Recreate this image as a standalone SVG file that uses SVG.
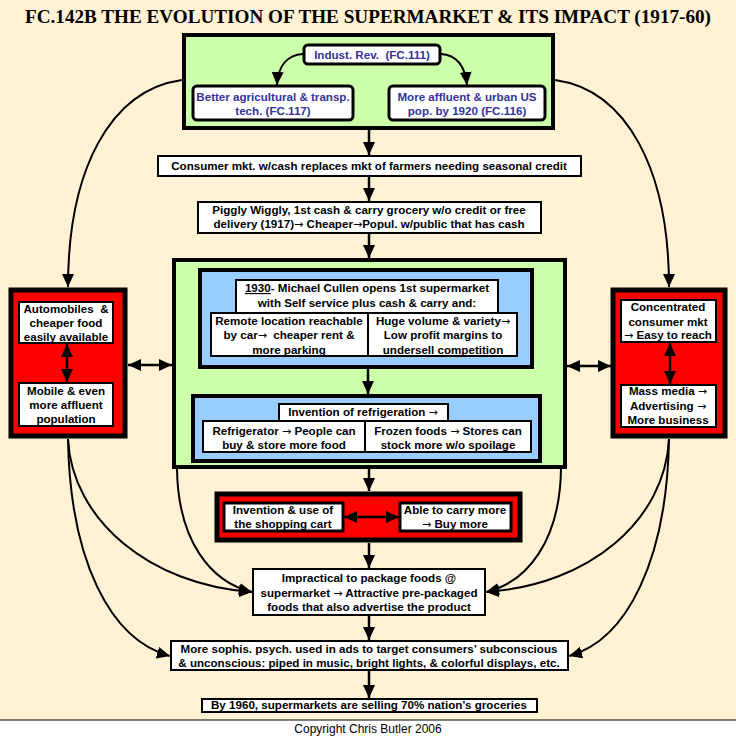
<svg xmlns="http://www.w3.org/2000/svg" width="736" height="737" viewBox="0 0 736 737">
<defs>
<style>
.t{font-family:"Liberation Sans",Arial,sans-serif;font-weight:bold;font-size:11.6px;text-anchor:middle;fill:#000}
.b{fill:#333399}
.a{font-family:"DejaVu Sans",sans-serif;font-weight:normal;font-size:11px}
.wb{fill:#fff;stroke:#000;stroke-width:2}
.wr{fill:#fff;stroke:#000;stroke-width:3}
.rb{fill:#fff;stroke:#000;stroke-width:3}
.gr{fill:#CCFFAA;stroke:#000;stroke-width:4}
.bl{fill:#99CCFF;stroke:#000;stroke-width:4}
.rd{fill:#FF0000;stroke:#000;stroke-width:5}
.c{fill:none;stroke:#000;stroke-width:2}
.v{fill:none;stroke:#000;stroke-width:2.5}
</style>
<marker id="ah" markerUnits="userSpaceOnUse" markerWidth="13" markerHeight="12" refX="13" refY="6" orient="auto-start-reverse" viewBox="0 0 13 12">
<path d="M0,0 L13,6 L0,12 z" fill="#000"/>
</marker>
</defs>
<rect x="0" y="0" width="736" height="737" fill="#FFF1D3"/>
<rect x="0" y="720" width="736" height="17" fill="#fff"/>
<line x1="0" y1="720" x2="736" y2="720" stroke="#000" stroke-width="1"/>
<text x="368" y="23" font-family="'Liberation Serif','Times New Roman',serif" font-weight="bold" font-size="18" text-anchor="middle" textLength="686" lengthAdjust="spacingAndGlyphs">FC.142B THE EVOLUTION OF THE SUPERMARKET &amp; ITS IMPACT (1917-60)</text>
<text x="368" y="733" font-family="'Liberation Sans',Arial,sans-serif" font-size="12" text-anchor="middle">Copyright Chris Butler 2006</text>

<g id="industrial">
<rect class="gr" x="184" y="35" width="369" height="93"/>
<rect class="rb" x="304" y="45" width="136" height="19" rx="4"/>
<text class="t b" x="372" y="59">Indust. Rev.&#160; (FC.111)</text>
<rect class="rb" x="193" y="86" width="160" height="34" rx="4"/>
<text class="t b" x="273" y="101">Better agricultural &amp; transp.</text>
<text class="t b" x="273" y="115">tech. (FC.117)</text>
<rect class="rb" x="389" y="86" width="156" height="34" rx="4"/>
<text class="t b" x="467" y="101">More affluent &amp; urban US</text>
<text class="t b" x="467" y="115">pop. by 1920 (FC.116)</text>
</g>

<g id="consumer">
<rect class="wb" x="158" y="156" width="423" height="20"/>
<text class="t" x="369" y="170">Consumer mkt. w/cash replaces mkt of farmers needing seasonal credit</text>
</g>

<g id="piggly">
<rect class="wb" x="198" y="202" width="343" height="31"/>
<text class="t" x="369" y="214">Piggly Wiggly, 1st cash &amp; carry grocery w/o credit or free</text>
<text class="t" x="369" y="228">delivery (1917)<tspan class="a">→</tspan> Cheaper<tspan class="a">→</tspan>Popul. w/public that has cash</text>
</g>

<g id="supermarket">
<rect class="gr" x="174" y="260" width="391" height="207"/>
<rect class="bl" x="200" y="270" width="332" height="97"/>
<rect class="wb" x="236" y="280" width="262" height="33"/>
<text class="t" x="367" y="292"><tspan text-decoration="underline">1930</tspan>- Michael Cullen opens 1st supermarket</text>
<text class="t" x="367" y="307">with Self service plus cash &amp; carry and:</text>
<rect class="wb" x="211" y="313" width="157" height="43"/>
<text class="t" x="289" y="325">Remote location reachable</text>
<text class="t" x="289" y="339">by car<tspan class="a">→</tspan>&#160; cheaper rent &amp;</text>
<text class="t" x="289" y="354">more parking</text>
<rect class="wb" x="368" y="313" width="149" height="43"/>
<text class="t" x="443" y="325">Huge volume &amp; variety<tspan class="a">→</tspan></text>
<text class="t" x="443" y="339">Low profit margins to</text>
<text class="t" x="443" y="354">undersell competition</text>
<rect class="bl" x="193" y="396" width="347" height="65"/>
<rect class="wb" x="279" y="404" width="169" height="17"/>
<text class="t" x="363" y="416">Invention of refrigeration <tspan class="a">→</tspan></text>
<rect class="wb" x="203" y="421" width="162" height="31"/>
<text class="t" x="284" y="435">Refrigerator <tspan class="a">→</tspan> People can</text>
<text class="t" x="284" y="449">buy &amp; store more food</text>
<rect class="wb" x="365" y="421" width="166" height="31"/>
<text class="t" x="448" y="435">Frozen foods <tspan class="a">→</tspan> Stores can</text>
<text class="t" x="448" y="449">stock more w/o spoilage</text>
</g>

<g id="automobiles">
<rect class="rd" x="11" y="290" width="114" height="146"/>
<rect class="wb" x="19" y="302" width="94" height="41"/>
<text class="t" x="66" y="313">Automobiles&#160; &amp;</text>
<text class="t" x="66" y="327">cheaper food</text>
<text class="t" x="66" y="341">easily available</text>
<rect class="wb" x="19" y="383" width="94" height="43"/>
<text class="t" x="66" y="395">Mobile &amp; even</text>
<text class="t" x="66" y="409">more affluent</text>
<text class="t" x="66" y="423">population</text>
<line class="v" x1="67" y1="344" x2="67" y2="382" marker-start="url(#ah)" marker-end="url(#ah)"/>
</g>

<g id="massmarket">
<rect class="rd" x="613" y="290" width="112" height="146"/>
<rect class="wb" x="621" y="300" width="95" height="42"/>
<text class="t" x="668" y="311">Concentrated</text>
<text class="t" x="668" y="326">consumer mkt</text>
<text class="t" x="668" y="339"><tspan class="a">→</tspan> Easy to reach</text>
<rect class="wb" x="621" y="385" width="95" height="42"/>
<text class="t" x="668" y="395">Mass media <tspan class="a">→</tspan></text>
<text class="t" x="668" y="410">Advertising <tspan class="a">→</tspan></text>
<text class="t" x="668" y="424">More business</text>
<line class="v" x1="670" y1="343" x2="670" y2="384" marker-start="url(#ah)" marker-end="url(#ah)"/>
</g>

<g id="cart">
<rect class="rd" x="217" y="494" width="303" height="46"/>
<rect class="wr" x="224" y="503" width="119" height="28"/>
<text class="t" x="283" y="514">Invention &amp; use of</text>
<text class="t" x="283" y="528">the shopping cart</text>
<rect class="wr" x="400" y="503" width="111" height="28"/>
<text class="t" x="455" y="514">Able to carry more</text>
<text class="t" x="455" y="528"><tspan class="a">→</tspan> Buy more</text>
<line class="v" x1="344" y1="517" x2="399" y2="517" marker-start="url(#ah)" marker-end="url(#ah)"/>
</g>

<g id="packaging">
<rect class="wb" x="253" y="569" width="232" height="46"/>
<text class="t" x="369" y="582">Impractical to package foods @</text>
<text class="t" x="369" y="597">supermarket <tspan class="a">→</tspan> Attractive pre-packaged</text>
<text class="t" x="369" y="611">foods that also advertise the product</text>
</g>

<g id="psychology">
<rect class="wb" x="171" y="641" width="397" height="29"/>
<text class="t" x="369" y="653">More sophis. psych. used in ads to target consumers’ subconscious</text>
<text class="t" x="369" y="667">&amp; unconscious: piped in music, bright lights, &amp; colorful displays, etc.</text>
</g>

<g id="groceries">
<rect class="wb" x="202" y="699" width="335" height="13"/>
<text class="t" x="369" y="709">By 1960, supermarkets are selling 70% nation’s groceries</text>
</g>

<g id="connectors">
<line class="v" x1="369" y1="130" x2="369" y2="155" marker-end="url(#ah)"/>
<line class="v" x1="369" y1="177" x2="369" y2="201" marker-end="url(#ah)"/>
<line class="v" x1="369" y1="234" x2="369" y2="258" marker-end="url(#ah)"/>
<line class="v" x1="368" y1="369" x2="368" y2="394" marker-end="url(#ah)"/>
<line class="v" x1="369" y1="469" x2="369" y2="491" marker-end="url(#ah)"/>
<line class="v" x1="369" y1="543" x2="369" y2="568" marker-end="url(#ah)"/>
<line class="v" x1="369" y1="616" x2="369" y2="640" marker-end="url(#ah)"/>
<line class="v" x1="369" y1="671" x2="369" y2="698" marker-end="url(#ah)"/>
<path class="c" d="M303,54 C288,55 278,65 277,85" marker-end="url(#ah)"/>
<path class="c" d="M441,54 C456,55 465,65 467,85" marker-end="url(#ah)"/>
<path class="c" d="M182,80 C110,90 68,170 68,287" marker-end="url(#ah)"/>
<path class="c" d="M555,80 C627,90 669,170 669,287" marker-end="url(#ah)"/>
<path class="c" d="M68,439 C72,520 150,585 252,592" marker-end="url(#ah)"/>
<path class="c" d="M68,439 C70,560 110,640 170,656" marker-end="url(#ah)"/>
<path class="c" d="M177,469 C178,540 210,582 252,592" marker-end="url(#ah)"/>
<path class="c" d="M669,439 C665,520 590,585 486,592" marker-end="url(#ah)"/>
<path class="c" d="M669,439 C667,560 627,640 569,656" marker-end="url(#ah)"/>
<path class="c" d="M561,469 C560,540 528,582 486,592" marker-end="url(#ah)"/>
<line class="v" x1="128" y1="365" x2="172" y2="365" marker-start="url(#ah)" marker-end="url(#ah)"/>
<line class="v" x1="567" y1="366" x2="611" y2="366" marker-start="url(#ah)" marker-end="url(#ah)"/>
</g>
</svg>
